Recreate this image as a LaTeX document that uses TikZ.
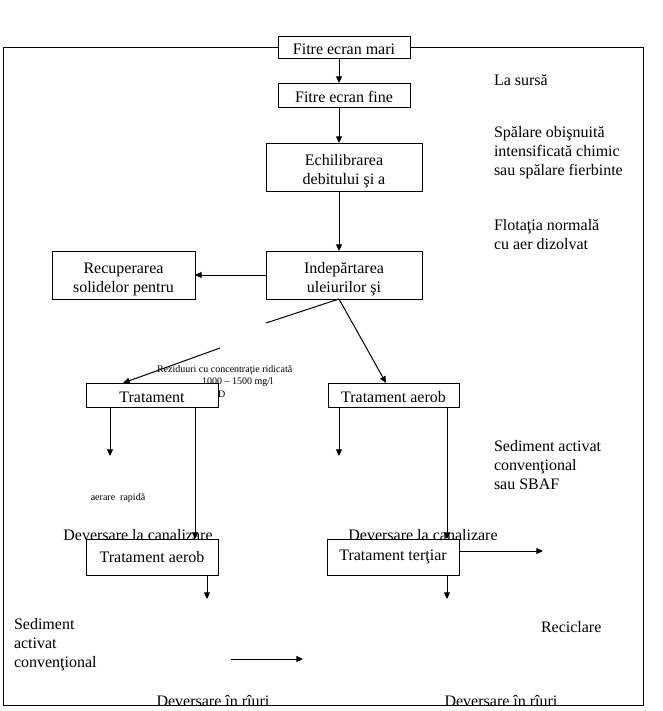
\documentclass[tikz,border=0pt]{standalone}
\usepackage{fontspec}
\setmainfont{Liberation Serif}
\usetikzlibrary{arrows.meta,calc}
\newcommand{\firstlift}{\rule{0pt}{14pt}}
\begin{document}
\begin{tikzpicture}[x=0.75pt,y=-0.75pt,
  every node/.style={inner sep=0pt,outer sep=0pt},
  txt/.style={font=\fontsize{12}{14.3}\selectfont},
  small/.style={font=\fontsize{7.5}{9.5}\selectfont},
  box/.style={draw,fill=white,line width=0.75pt,txt,align=center},
  sbox/.style={box,text height=11pt,text depth=0pt},
  arr/.style={line width=0.75pt,-{Triangle[length=5pt,width=4.5pt]}},
  ln/.style={line width=0.75pt}]
\useasboundingbox (0,0) rectangle (663,711);
% outer frame
\draw[ln] (3,47) rectangle (643,705);
% small text partly hidden by the box drawn above it
\node[small,anchor=west] (rez1) at (157,370) {Reziduuri cu concentraţie ridicată};
\node[small,anchor=east] (rez2) at (273,382) {1000 – 1500 mg/l};
\node[small,anchor=west] (rez3) at (218,394) {D};
% boxes (sizes: px * 0.75pt)
\node[sbox,minimum width=99pt,minimum height=16.5pt] (mari) at (344,47) {Fitre ecran mari};
\node[sbox,minimum width=99pt,minimum height=18pt] (fine) at (344,95) {Fitre ecran fine};
\node[box,minimum width=117pt,minimum height=36pt] (echi) at (344,167) {\firstlift Echilibrarea\\debitului şi a};
\node[box,minimum width=117pt,minimum height=36pt] (indep) at (344,275) {\firstlift Indepărtarea\\uleiurilor şi};
\node[box,minimum width=107.25pt,minimum height=36pt] (recup) at (123.5,275) {\firstlift Recuperarea\\solidelor pentru};
\node[sbox,minimum width=99pt,minimum height=18pt] (trat1) at (152,395) {Tratament};
\node[sbox,minimum width=98.25pt,minimum height=18pt] (trat2) at (393.5,395) {Tratament aerob};
\node[box,minimum width=99pt,minimum height=27pt] (aer) at (152,557) {Tratament aerob};
\node[box,minimum width=99pt,minimum height=27pt] (tert) at (393,557) {Tratament terţiar};
% free coordinates
\coordinate (c1) at (266,323);
\coordinate (c2) at (220,348);
\coordinate (t1) at (123,383);
\coordinate (t2) at (386,383);
\coordinate (d1) at (110,456);
\coordinate (d2) at (339,456);
\coordinate (r1) at (543,551);
\coordinate (b1) at (207,599);
\coordinate (b2) at (447,599);
\coordinate (s1) at (231,659);
\coordinate (s2) at (303,659);
% connectors
\draw[arr] (mari.south -| 339,0) -- (fine.north -| 339,0);
\draw[arr] (fine.south -| 339,0) -- (echi.north -| 339,0);
\draw[arr] (echi.south -| 339,0) -- (indep.north -| 339,0);
\draw[arr] (indep.west) -- (recup.east);
\draw[ln] (indep.south -| 339,0) -- (c1);
\draw[arr] (c2) -- (t1);
\draw[arr] (indep.south -| 339,0) -- (t2);
\draw[arr] (trat1.south -| d1) -- (d1);
\draw[arr] (trat1.south -| 195,0) -- (aer.north -| 195,0);
\draw[arr] (trat2.south -| d2) -- (d2);
\draw[arr] (trat2.south -| 447,0) -- (tert.north -| 447,0);
\draw[arr] (tert.east |- r1) -- (r1);
\draw[arr] (aer.south -| b1) -- (b1);
\draw[arr] (tert.south -| b2) -- (b2);
\draw[arr] (s1) -- (s2);
% texts
\node[txt,anchor=west] (src) at (494,80) {La sursă};
\node[txt,anchor=north west,align=left] (spal) at (494,126) {Spălare obişnuită\\intensificată chimic\\sau spălare fierbinte};
\node[txt,anchor=north west,align=left] (flot) at (494,219) {Flotaţia normală\\cu aer dizolvat};
\node[txt,anchor=north west,align=left] (sed1) at (494,440) {Sediment activat\\convenţional\\sau SBAF};
\node[small] (aerr) at (118,498) {aerare\ \ rapidă};
\node[txt] (dc1) at (138,535) {Deversare la canalizare};
\node[txt] (dc2) at (423,535) {Deversare la canalizare};
\node[txt,anchor=north west,align=left] (sed2) at (14,618) {Sediment\\activat\\convenţional};
\node[txt,anchor=west] (rec) at (541,627) {Reciclare};
\node[txt] (dr1) at (213,701) {Deversare în rîuri};
\node[txt] (dr2) at (501,701) {Deversare în rîuri};
\fill[white] (0,705.5) rectangle (663,711);
\draw[ln] (3,705) -- (643,705);
\end{tikzpicture}
\end{document}
